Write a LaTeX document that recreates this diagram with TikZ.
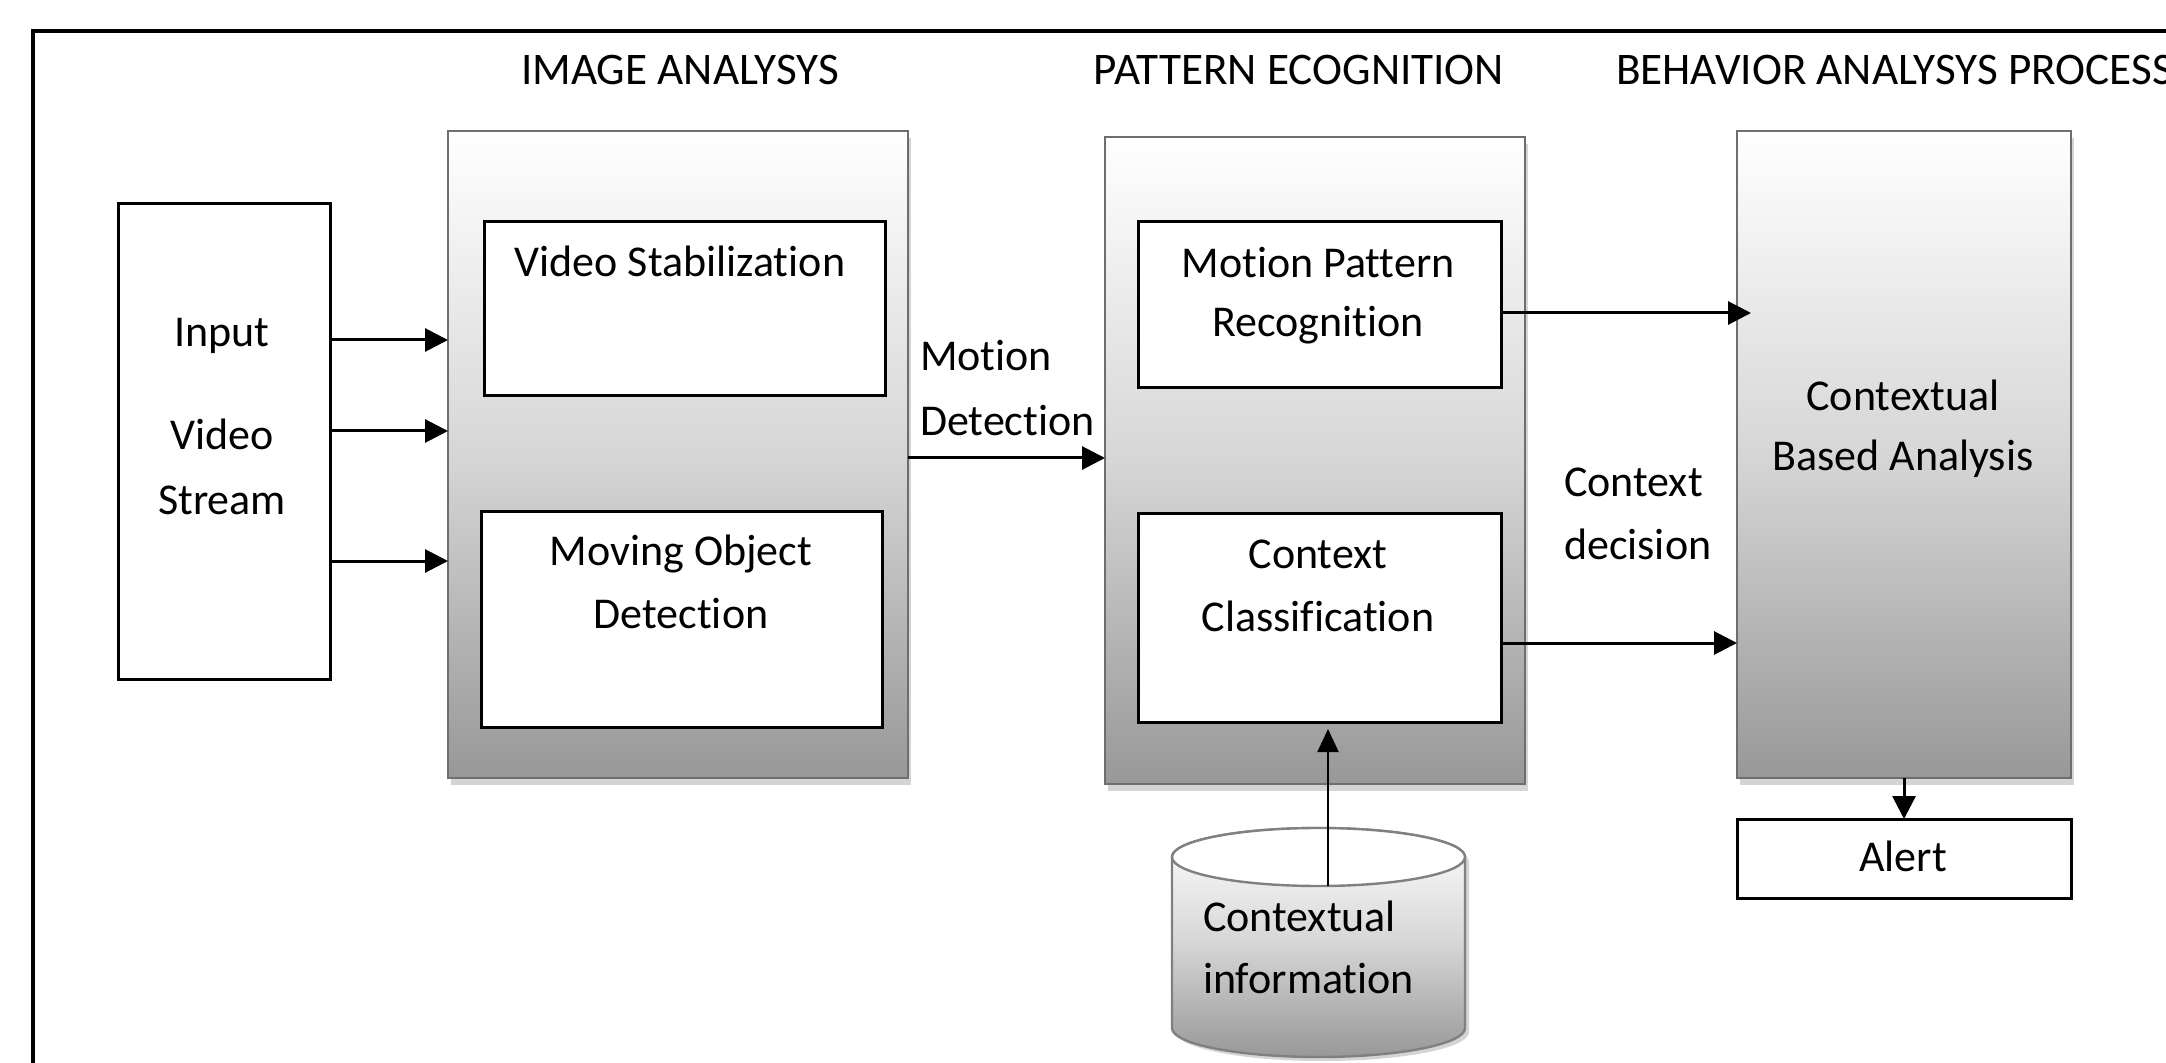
\documentclass[tikz,border=0pt]{standalone}
\usepackage{fontspec}
\setmainfont[Ligatures={NoCommon}]{Carlito}
\usetikzlibrary{arrows.meta,fit,shadows}
\definecolor{gbot}{RGB}{152,152,152}
\definecolor{gmid}{RGB}{214,214,214}
\definecolor{gedge}{RGB}{110,110,110}
\definecolor{shad}{RGB}{212,212,212}
\definecolor{cedge}{RGB}{128,128,128}
\begin{document}
\begin{tikzpicture}[x=0.5pt,y=-0.5pt,
  every node/.style={font=\fontsize{22pt}{30pt}\selectfont, inner sep=0pt, outer sep=0pt},
  title/.style={font=\fontsize{22.6pt}{30pt}\selectfont},
  wbox/.style={draw=black, line width=1.5pt, fill=white},
  gbox/.style={draw=gedge, line width=1.2pt, top color=white, bottom color=gbot, middle color=gmid,
     general shadow={fill=shad, shadow xshift=1.5pt, shadow yshift=-3.5pt}},
  txt/.style={anchor=base},
  ltxt/.style={anchor=base west},
  arr/.style={line width=1.5pt, -{Triangle[length=11.5pt,width=11.5pt]}},
  arrthin/.style={line width=1pt, -{Triangle[length=11.5pt,width=10.5pt]}},
]
\useasboundingbox (0,0) rectangle (2166,1063);
\clip (0,0) rectangle (2166,1063);
\fill[white] (0,0) rectangle (2166,1063);
% outer frame
\draw[line width=2pt] (33,31) rectangle (2300,1200);

% titles
\node[txt, title] (tia) at (680,85) {IMAGE ANALYSYS};
\node[txt, title] (tpr) at (1299,85) {PATTERN ECOGNITION};
\node[ltxt, title] (tba) at (1616,85) {BEHAVIOR ANALYSYS PROCESS};

% input
\node[wbox, fit={(118,204)(330,679)}] (input) {};
\node[txt] (tin1) at (222,347) {Input};
\node[txt] (tin2) at (222,450) {Video};
\node[txt] (tin3) at (222,514) {Stream};

% image analysis
\node[gbox, fit={(448,131)(908,778)}] (ia) {};
\node[wbox, fit={(484,222)(885,396)}] (vs) {};
\node[txt] (tvs) at (680,277) {Video Stabilization};
\node[wbox, fit={(481,511)(882,727)}] (mod) {};
\node[txt] (tmod1) at (681,565) {Moving Object};
\node[txt] (tmod2) at (681,628) {Detection};

% motion detection label
\node[ltxt] (tmd1) at (920,371) {Motion};
\node[ltxt] (tmd2) at (920,436) {Detection};

% pattern recognition
\node[gbox, fit={(1105,137)(1525,784)}] (pr) {};
\node[wbox, fit={(1138,222)(1501,388)}] (mpr) {};
\node[txt] (tmpr1) at (1318,278) {Motion Pattern};
\node[txt] (tmpr2) at (1318,337) {Recognition};
\node[wbox, fit={(1138,513)(1501,722)}] (cc) {};
\node[txt] (tcc1) at (1318,568) {Context};
\node[txt] (tcc2) at (1318,631) {Classification};

% context decision label
\node[ltxt] (tcd1) at (1564,496) {Context};
\node[ltxt] (tcd2) at (1564,559) {decision};

% behavior analysis
\node[gbox, fit={(1737,131)(2071,778)}] (ba) {};
\node[txt] (tba1) at (1903,411) {Contextual};
\node[txt] (tba2) at (1903,471) {Based Analysis};
\node[wbox, fit={(1737,819)(2071,898)}] (alert) {};
\node[txt] (talert) at (1903,871) {Alert};

% cylinder
\fill[shad] (1176,862) -- (1176,1032) arc[start angle=180, end angle=0, x radius=146.5, y radius=29]
  -- (1469,862) arc[start angle=0, end angle=-180, x radius=146.5, y radius=29] -- cycle;
\draw[draw=cedge, line width=1.2pt, top color=white, bottom color=gbot, middle color=gmid]
  (1172,857) -- (1172,1028) arc[start angle=180, end angle=0, x radius=146.5, y radius=29]
  -- (1465,857) arc[start angle=0, end angle=-180, x radius=146.5, y radius=29] -- cycle;
\draw[draw=cedge, line width=1.2pt, fill=white] (1318.5,857) ellipse [x radius=146.5, y radius=29];
\node[ltxt] (tci1) at (1203,931) {Contextual};
\node[ltxt] (tci2) at (1203,993) {information};

% connector coordinates
\coordinate (r1) at (0,340);
\coordinate (r2) at (0,431);
\coordinate (r3) at (0,561);
\coordinate (rmd) at (0,458);
\coordinate (rmp) at (1751,313);
\coordinate (rcc) at (0,643);
\coordinate (cyltop) at (1328,886);
\coordinate (cctip) at (1328,729);

% connectors
\draw[arr] (input.east |- r1) -- (ia.west |- r1);
\draw[arr] (input.east |- r2) -- (ia.west |- r2);
\draw[arr] (input.east |- r3) -- (ia.west |- r3);
\draw[arr] (ia.east |- rmd) -- (pr.west |- rmd);
\draw[arr] (mpr.east |- rmp) -- (rmp);
\draw[arr] (cc.east |- rcc) -- (ba.west |- rcc);
\draw[arr] (ba.south) -- (alert.north);
\draw[arrthin] (cyltop) -- (cctip);
\end{tikzpicture}
\end{document}
